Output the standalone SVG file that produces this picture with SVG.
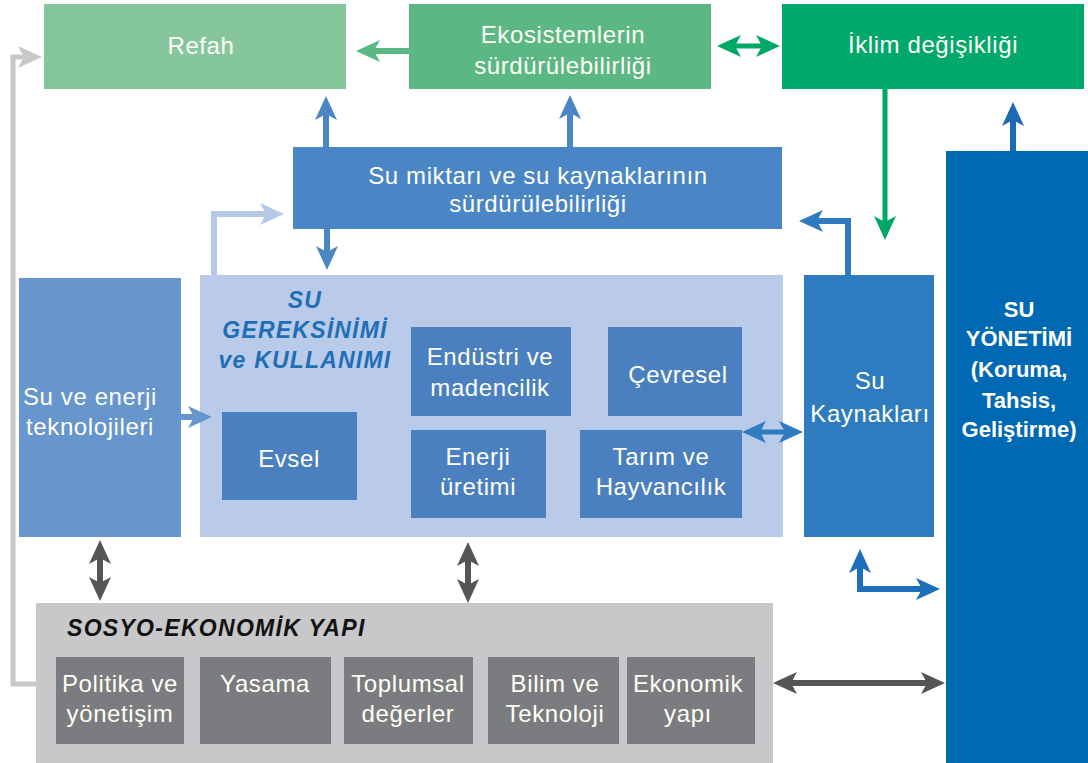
<svg xmlns="http://www.w3.org/2000/svg" width="1088" height="763" viewBox="0 0 1088 763">
<style>
.t{font-family:"Liberation Sans",Arial,sans-serif;font-size:24px;letter-spacing:0.6px;fill:#FFFFF6;text-anchor:middle}
.tb{font-family:"Liberation Sans",Arial,sans-serif;font-size:22px;font-weight:bold;fill:#FFFFF6;text-anchor:middle}
.ti{font-family:"Liberation Sans",Arial,sans-serif;font-size:23px;font-weight:bold;font-style:italic;letter-spacing:1.2px}
.sub{fill:#4A80C0}
.gsub{fill:#7B7C80}
.c{fill:none;stroke-linejoin:miter}
</style>
<defs>
<marker id="mG1" markerUnits="userSpaceOnUse" viewBox="0 0 24 22" markerWidth="24" markerHeight="22" refX="8" refY="11" orient="auto-start-reverse"><path d="M0,0 L24,11 L0,22 L6,11 z" fill="#5BB784"/></marker>
<marker id="mG2" markerUnits="userSpaceOnUse" viewBox="0 0 24 22" markerWidth="24" markerHeight="22" refX="8" refY="11" orient="auto-start-reverse"><path d="M0,0 L24,11 L0,22 L6,11 z" fill="#00A866"/></marker>
<marker id="mB1" markerUnits="userSpaceOnUse" viewBox="0 0 24 22" markerWidth="24" markerHeight="22" refX="8" refY="11" orient="auto-start-reverse"><path d="M0,0 L24,11 L0,22 L6,11 z" fill="#4A86C5"/></marker>
<marker id="mB2" markerUnits="userSpaceOnUse" viewBox="0 0 24 22" markerWidth="24" markerHeight="22" refX="8" refY="11" orient="auto-start-reverse"><path d="M0,0 L24,11 L0,22 L6,11 z" fill="#2E7BC0"/></marker>
<marker id="mB3" markerUnits="userSpaceOnUse" viewBox="0 0 24 22" markerWidth="24" markerHeight="22" refX="8" refY="11" orient="auto-start-reverse"><path d="M0,0 L24,11 L0,22 L6,11 z" fill="#1E6FBB"/></marker>
<marker id="mB4" markerUnits="userSpaceOnUse" viewBox="0 0 24 22" markerWidth="24" markerHeight="22" refX="8" refY="11" orient="auto-start-reverse"><path d="M0,0 L24,11 L0,22 L6,11 z" fill="#1E6AB4"/></marker>
<marker id="mL" markerUnits="userSpaceOnUse" viewBox="0 0 24 22" markerWidth="24" markerHeight="22" refX="8" refY="11" orient="auto-start-reverse"><path d="M0,0 L24,11 L0,22 L6,11 z" fill="#B4C8E8"/></marker>
<marker id="mT" markerUnits="userSpaceOnUse" viewBox="0 0 24 22" markerWidth="24" markerHeight="22" refX="8" refY="11" orient="auto-start-reverse"><path d="M0,0 L24,11 L0,22 L6,11 z" fill="#6795CD"/></marker>
<marker id="mD" markerUnits="userSpaceOnUse" viewBox="0 0 24 22" markerWidth="24" markerHeight="22" refX="8" refY="11" orient="auto-start-reverse"><path d="M0,0 L24,11 L0,22 L6,11 z" fill="#555558"/></marker>
<marker id="mGr" markerUnits="userSpaceOnUse" viewBox="0 0 24 22" markerWidth="24" markerHeight="22" refX="8" refY="11" orient="auto-start-reverse"><path d="M0,0 L24,11 L0,22 L6,11 z" fill="#C8C8CA"/></marker>
</defs>
<rect width="1088" height="763" fill="#FFFFFF"/>

<g id="refah"><rect x="44" y="4" width="302" height="85" fill="#85C69D"/><text class="t" x="201" y="54">Refah</text></g>
<g id="ekosistem"><rect x="409" y="4" width="302" height="85" fill="#5BB784"/><text class="t" x="563" y="43">Ekosistemlerin</text><text class="t" x="563" y="74">sürdürülebilirliği</text></g>
<g id="iklim"><rect x="782" y="4" width="302" height="85" fill="#00A86B"/><text class="t" x="933" y="53">İklim değişikliği</text></g>
<g id="su-miktari"><rect x="293" y="147" width="489" height="82" fill="#4A86C5"/><text class="t" x="538" y="184">Su miktarı ve su kaynaklarının</text><text class="t" x="538" y="212">sürdürülebilirliği</text></g>
<g id="su-yonetimi"><rect x="946" y="151" width="142" height="612" fill="#0069B4"/><text class="tb" x="1019" y="317">SU</text><text class="tb" x="1019" y="346">YÖNETİMİ</text><text class="tb" x="1019" y="377">(Koruma,</text><text class="tb" x="1019" y="408">Tahsis,</text><text class="tb" x="1019" y="437">Geliştirme)</text></g>
<g id="su-kaynaklari"><rect x="804" y="275" width="130" height="262" fill="#2E7BC0"/><text class="t" x="870" y="389">Su</text><text class="t" x="870" y="422">Kaynakları</text></g>
<g id="su-enerji"><rect x="19" y="278" width="162" height="259" fill="#6795CD"/><text class="t" x="90" y="405">Su ve enerji</text><text class="t" x="90" y="435">teknolojileri</text></g>
<g id="su-gereksinimi"><rect x="200" y="275" width="583" height="262" fill="#B9CBE9"/>
<text class="ti" x="305" y="308" text-anchor="middle" fill="#1F6FB7">SU</text>
<text class="ti" x="305" y="338" text-anchor="middle" fill="#1F6FB7">GEREKSİNİMİ</text>
<text class="ti" x="305" y="368" text-anchor="middle" fill="#1F6FB7">ve KULLANIMI</text></g>
<g id="evsel"><rect class="sub" x="222" y="412" width="135" height="88"/><text class="t" x="289" y="467">Evsel</text></g>
<g id="endustri"><rect class="sub" x="411" y="327" width="160" height="89"/><text class="t" x="490" y="365">Endüstri ve</text><text class="t" x="490" y="396">madencilik</text></g>
<g id="cevresel"><rect class="sub" x="608" y="327" width="134" height="89"/><text class="t" x="678" y="383">Çevresel</text></g>
<g id="enerji"><rect class="sub" x="411" y="430" width="135" height="88"/><text class="t" x="478" y="465">Enerji</text><text class="t" x="478" y="495">üretimi</text></g>
<g id="tarim"><rect class="sub" x="580" y="430" width="162" height="88"/><text class="t" x="661" y="465">Tarım ve</text><text class="t" x="661" y="495">Hayvancılık</text></g>
<g id="sosyo"><rect x="36" y="603" width="737" height="160" fill="#C8C8CA"/><text class="ti" x="67" y="636" fill="#111111" style="letter-spacing:1.3px">SOSYO-EKONOMİK YAPI</text></g>
<g id="politika"><rect class="gsub" x="56" y="657" width="128" height="87"/><text class="t" x="120" y="692">Politika ve</text><text class="t" x="120" y="722">yönetişim</text></g>
<g id="yasama"><rect class="gsub" x="200" y="657" width="131" height="87"/><text class="t" x="265" y="692">Yasama</text></g>
<g id="toplumsal"><rect class="gsub" x="344" y="657" width="129" height="87"/><text class="t" x="408" y="692">Toplumsal</text><text class="t" x="408" y="722">değerler</text></g>
<g id="bilim"><rect class="gsub" x="488" y="657" width="131" height="87"/><text class="t" x="555" y="692">Bilim ve</text><text class="t" x="555" y="722">Teknoloji</text></g>
<g id="ekonomik"><rect class="gsub" x="627" y="657" width="128" height="87"/><text class="t" x="688" y="692">Ekonomik</text><text class="t" x="688" y="722">yapı</text></g>

<g id="connectors">
<path class="c" d="M409,51 L372,51" stroke="#5BB784" stroke-width="6" marker-end="url(#mG1)"/>
<path class="c" d="M733,46 L764,46" stroke="#00A866" stroke-width="5" marker-start="url(#mG2)" marker-end="url(#mG2)"/>
<path class="c" d="M885,89 L885,224" stroke="#00A866" stroke-width="5" marker-end="url(#mG2)"/>
<path class="c" d="M1013,151 L1013,118" stroke="#1E6AB4" stroke-width="6" marker-end="url(#mB4)"/>
<path class="c" d="M326,147 L326,112" stroke="#4A86C5" stroke-width="6" marker-end="url(#mB1)"/>
<path class="c" d="M327,229 L327,254" stroke="#4A86C5" stroke-width="6" marker-end="url(#mB1)"/>
<path class="c" d="M570,147 L570,111" stroke="#4A86C5" stroke-width="6" marker-end="url(#mB1)"/>
<path class="c" d="M214,275 L214,214 L268,214" stroke="#B4C8E8" stroke-width="6" marker-end="url(#mL)"/>
<path class="c" d="M848,275 L848,221 L815,221" stroke="#2E7BC0" stroke-width="6" marker-end="url(#mB2)"/>
<path class="c" d="M181,417 L196,417" stroke="#6795CD" stroke-width="6" marker-end="url(#mT)"/>
<path class="c" d="M758,432 L787,432" stroke="#2E7BC0" stroke-width="5" marker-start="url(#mB2)" marker-end="url(#mB2)"/>
<path class="c" d="M860,565 L860,589 L924,589" stroke="#1E6FBB" stroke-width="6" marker-start="url(#mB3)" marker-end="url(#mB3)"/>
<path class="c" d="M789,683 L929,683" stroke="#555558" stroke-width="6" marker-start="url(#mD)" marker-end="url(#mD)"/>
<path class="c" d="M100,556 L100,585" stroke="#555558" stroke-width="6" marker-start="url(#mD)" marker-end="url(#mD)"/>
<path class="c" d="M468,558 L468,587" stroke="#555558" stroke-width="6" marker-start="url(#mD)" marker-end="url(#mD)"/>
<path class="c" d="M36,684 L13,684 L13,57 L26,57" stroke="#C8C8CA" stroke-width="5" marker-end="url(#mGr)"/>
</g>
</svg>
